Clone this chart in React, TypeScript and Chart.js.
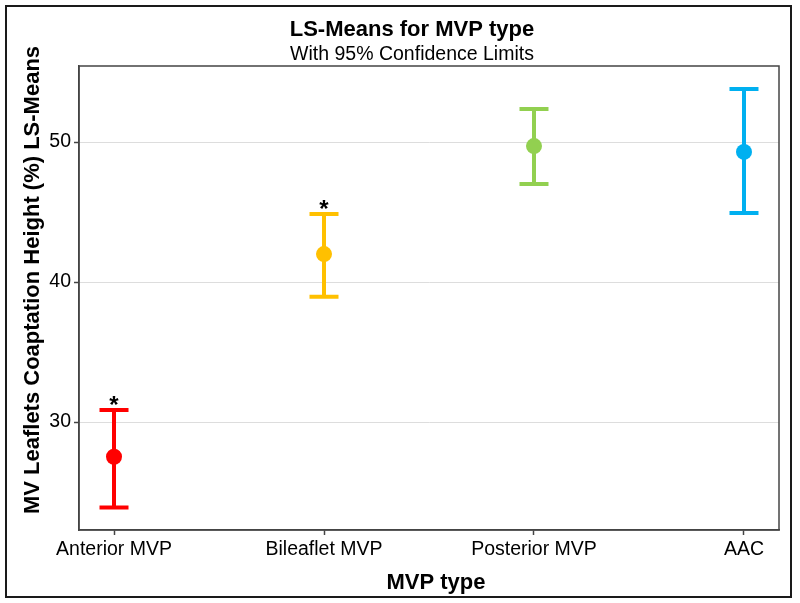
import React, { useEffect, useRef } from "react";
import { Chart, registerables } from "chart.js";
Chart.register(...registerables);

const categories = ["Anterior MVP", "Bileaflet MVP", "Posterior MVP", "AAC"];
const lsMeans = [27.52, 42.0, 49.71, 49.29];
const lowerCL = [23.9, 38.95, 47.0, 44.93];
const upperCL = [30.86, 44.86, 52.36, 53.79];
const significant = [true, true, false, false];
const colors = ["#FF0000", "#FFC000", "#92D050", "#00B0F0"];
const yTicks = [30, 40, 50];

const chartTitle = "LS-Means for MVP type";
const chartSubtitle = "With 95% Confidence Limits";
const xTitle = "MVP type";
const yTitle = "MV Leaflets Coaptation Height (%) LS-Means";

const FONT = "'Liberation Sans', Arial, Helvetica, sans-serif";

const errorBarPlugin = {
  id: "errorBars",
  beforeDatasetsDraw(chart: any) {
    const ctx = chart.ctx;
    const xs = chart.scales.x;
    const ys = chart.scales.y;
    ctx.save();
    categories.forEach((_, i) => {
      const x = xs.getPixelForValue(i);
      const yl = ys.getPixelForValue(lowerCL[i]);
      const yu = ys.getPixelForValue(upperCL[i]);
      ctx.strokeStyle = colors[i];
      ctx.lineWidth = 4;
      ctx.lineCap = "butt";
      ctx.beginPath();
      ctx.moveTo(x, yl);
      ctx.lineTo(x, yu);
      ctx.moveTo(x - 14.5, yl);
      ctx.lineTo(x + 14.5, yl);
      ctx.moveTo(x - 14.5, yu);
      ctx.lineTo(x + 14.5, yu);
      ctx.stroke();
      if (significant[i]) {
        ctx.fillStyle = "#000";
        ctx.font = `bold 24px ${FONT}`;
        ctx.textAlign = "center";
        ctx.textBaseline = "alphabetic";
        ctx.fillText("*", x, yu + 3);
      }
    });
    ctx.restore();
  },
  afterDraw(chart: any) {
    const ctx = chart.ctx;
    const a = chart.chartArea;
    ctx.save();
    // plot frame
    ctx.strokeStyle = "#444";
    ctx.lineWidth = 1.5;
    ctx.strokeRect(a.left, a.top, a.right - a.left, a.bottom - a.top);
    // outer frame
    ctx.strokeStyle = "#1a1a1a";
    ctx.lineWidth = 2;
    ctx.strokeRect(6, 6, 785, 591);
    // titles
    ctx.fillStyle = "#000";
    ctx.textAlign = "center";
    ctx.textBaseline = "alphabetic";
    ctx.font = `bold 22px ${FONT}`;
    ctx.fillText(chartTitle, 412, 36);
    ctx.font = `19.5px ${FONT}`;
    ctx.fillText(chartSubtitle, 412, 60);
    // x axis title
    ctx.font = `bold 22px ${FONT}`;
    ctx.fillText(xTitle, 436, 589);
    // y axis title
    ctx.translate(39, 280);
    ctx.rotate(-Math.PI / 2);
    ctx.font = `bold 22px ${FONT}`;
    ctx.fillText(yTitle, 0, 0);
    ctx.restore();
  },
};

export default function App() {
  const ref = useRef<HTMLCanvasElement | null>(null);
  useEffect(() => {
    if (!ref.current) return;
    const chart = new Chart(ref.current, {
      type: "scatter",
      data: {
        datasets: [
          {
            data: categories.map((_, i) => ({ x: i, y: lsMeans[i] })),
            pointRadius: 8,
            pointBackgroundColor: colors,
            pointBorderColor: colors,
            pointBorderWidth: 0,
            showLine: false,
          },
        ],
      },
      options: {
        responsive: false,
        animation: false,
        devicePixelRatio: 1,
        layout: { padding: { top: 66, right: 21, left: 0, bottom: 0 } },
        plugins: {
          legend: { display: false },
          tooltip: { enabled: false },
          title: { display: false },
        },
        scales: {
          x: {
            type: "linear",
            min: -0.1667,
            max: 3.1667,
            afterBuildTicks: (s: any) => {
              s.ticks = categories.map((_, i) => ({ value: i }));
            },
            afterFit: (s: any) => {
              s.height = 73;
            },
            ticks: {
              autoSkip: false,
              maxRotation: 0,
              color: "#000",
              padding: 3,
              font: { family: FONT, size: 19.5 },
              callback: (v: any) => categories[v as number] ?? "",
            },
            grid: {
              drawOnChartArea: false,
              drawTicks: true,
              tickLength: 5,
              tickColor: "#444",
              tickWidth: 1.5,
            },
            border: { display: true, color: "#444", width: 1.5 },
          },
          y: {
            type: "linear",
            min: 22.29,
            max: 55.43,
            afterBuildTicks: (s: any) => {
              s.ticks = yTicks.map((v) => ({ value: v }));
            },
            afterFit: (s: any) => {
              s.width = 79;
            },
            ticks: {
              color: "#000",
              padding: 3,
              font: { family: FONT, size: 19.5 },
            },
            grid: {
              color: "#dddddd",
              lineWidth: 1,
              drawTicks: true,
              tickLength: 5,
              tickColor: "#444",
              tickWidth: 1.5,
            },
            border: { display: true, color: "#444", width: 1.5 },
          },
        },
      },
      plugins: [errorBarPlugin],
    } as any);
    return () => chart.destroy();
  }, []);
  return (
    <div style={{ position: "absolute", left: 0, top: 0, width: 800, height: 603, background: "#fff" }}>
      <canvas ref={ref} width={800} height={603} />
    </div>
  );
}
